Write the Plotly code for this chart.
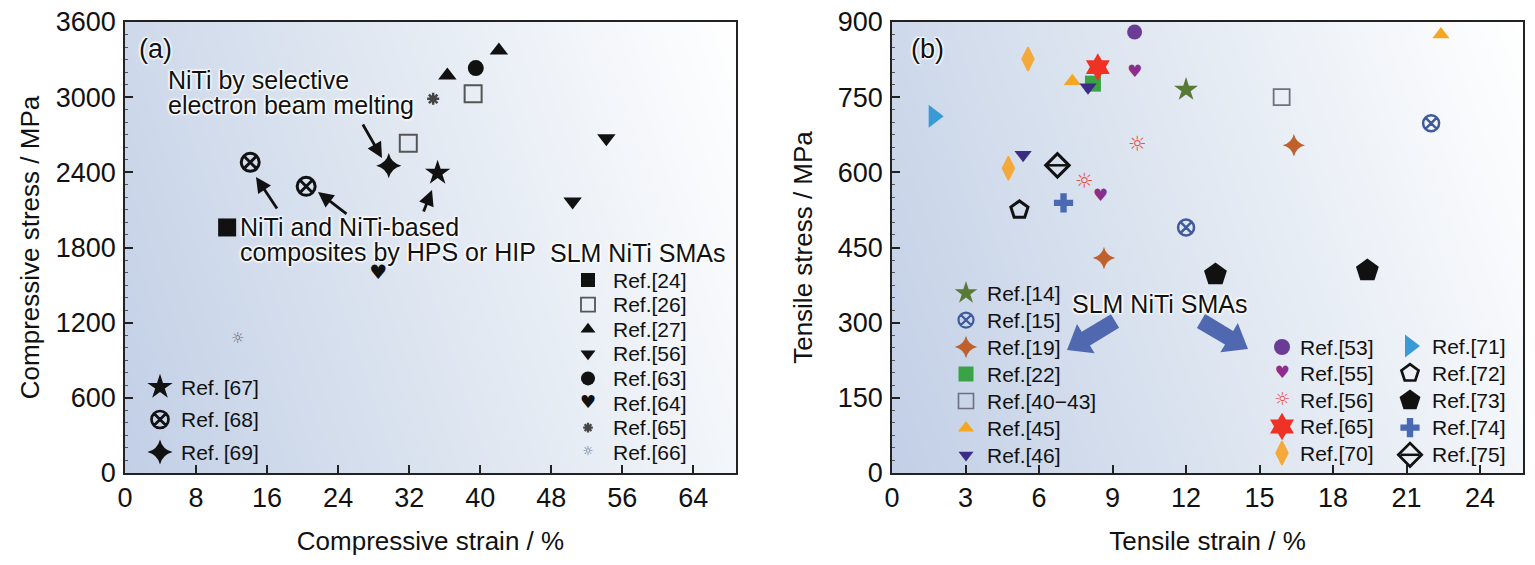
import math
import numpy as np
import plotly.graph_objects as go

W, H = 1535, 565
FONT = "Liberation Sans, Arial, sans-serif"
GLYPH_FONT = "DejaVu Sans, Liberation Sans, sans-serif"

# ---------------- (a) compressive data ----------------
a_refs = ["Ref.[24]", "Ref.[26]", "Ref.[27]", "Ref.[56]", "Ref.[63]", "Ref.[64]",
          "Ref.[65]", "Ref.[66]", "Ref.[67]", "Ref.[68]", "Ref.[69]"]
a_strain = [[11.5], [39.2, 31.9], [36.3, 42.1], [54.2, 50.4], [39.5], [28.5],
            [34.7], [12.7], [35.2], [14.1, 20.4], [29.7]]
a_stress = [[1960], [3027, 2632], [3173, 3373], [2672, 2168], [3232], [1587],
            [2987], [1067], [2395], [2480, 2288], [2453]]
a_xticks = [0, 8, 16, 24, 32, 40, 48, 56, 64]
a_yticks = [0, 600, 1200, 1800, 2400, 3000, 3600]

# ---------------- (b) tensile data ----------------
b_refs = ["Ref.[14]", "Ref.[15]", "Ref.[19]", "Ref.[22]", "Ref.[40\u221243]", "Ref.[45]", "Ref.[46]",
          "Ref.[53]", "Ref.[55]", "Ref.[56]", "Ref.[65]", "Ref.[70]",
          "Ref.[71]", "Ref.[72]", "Ref.[73]", "Ref.[74]", "Ref.[75]"]
b_strain = [[12.0], [12.0, 22.0], [16.4, 8.65], [8.2], [15.9], [7.36, 22.4], [8.0, 5.35],
            [9.9], [9.9, 8.5], [10.0, 7.84], [8.4], [5.55, 4.75],
            [1.7], [5.2], [13.2, 19.4], [7.0], [6.75]]
b_stress = [[765], [490, 698], [654, 429], [777], [750], [782, 875], [770, 635],
            [880], [798, 551], [654, 579], [810], [826, 608],
            [712], [525], [396, 404], [539], [614]]
b_xticks = [0, 3, 6, 9, 12, 15, 18, 21, 24]
b_yticks = [0, 150, 300, 450, 600, 750, 900]

# ---------------- styles ----------------
# kind, symbol/glyph, size, color, line width, legend-key size
STY_A = {
    "Ref.[24]": ("m", "square", 18, "#111111", 0, 14),
    "Ref.[26]": ("m", "square-open", 17, "#555555", 2, 14),
    "Ref.[27]": ("m", "triangle-up", 16, "#111111", 0, 13),
    "Ref.[56]": ("m", "triangle-down", 16, "#111111", 0, 13),
    "Ref.[63]": ("m", "circle", 16, "#111111", 0, 14),
    "Ref.[64]": ("g", "\u2665", 20, "#111111", 0, 18),
    "Ref.[65]": ("m", "asterisk-open", 10, "#444444", 2.5, 8),
    "Ref.[66]": ("g", "\u263c", 15, "#666666", 0, 12),
    "Ref.[67]": ("m", "star", 19, "#111111", 0, 19),
    "Ref.[68]": ("m", "circle-x-open", 18, "#111111", 3, 17),
    "Ref.[69]": ("m", "star-diamond", 18, "#111111", 0, 18),
}
STY_B = {
    "Ref.[14]": ("m", "star", 18, "#587a35", 0, 17),
    "Ref.[15]": ("m", "circle-x-open", 16, "#3f5b9b", 2.5, 15),
    "Ref.[19]": ("m", "star-diamond", 16, "#c0602d", 0, 16),
    "Ref.[22]": ("m", "square", 16, "#3aa346", 0, 15),
    "Ref.[40\u221243]": ("m", "square-open", 16, "#6d7080", 1.8, 15),
    "Ref.[45]": ("m", "triangle-up", 15, "#f5a623", 0, 14),
    "Ref.[46]": ("m", "triangle-down", 15, "#3b2d85", 0, 13),
    "Ref.[53]": ("m", "circle", 15, "#6a3c96", 0, 16),
    "Ref.[55]": ("g", "\u2665", 17, "#8e2c8c", 0, 17),
    "Ref.[56]": ("g", "\u263c", 21, "#e8524a", 0, 18),
    "Ref.[65]": ("m", "hexagram", 21, "#ee3326", 0, 21),
    "Ref.[70]": ("m", "diamond-tall", 17, "#f5a93a", 1.5, 17),
    "Ref.[71]": ("m", "triangle-right", 20, "#3a9ad6", 0, 20),
    "Ref.[72]": ("m", "pentagon-open", 18, "#111111", 3, 18),
    "Ref.[73]": ("m", "pentagon", 24, "#111111", 0, 22),
    "Ref.[74]": ("m", "cross", 16, "#4a69b3", 0, 16),
    "Ref.[75]": ("m", "diamond-open", 18, "#111111", 3, 18),
}

# legend blocks (pixel layout): refs, key x, text x, first row y, row step
LEG_BLOCKS = [
    (a_refs[:8], STY_A, 588, 611, 280, 24.6),
    (a_refs[8:], STY_A, 160, 179, 387, 32.5),
    (b_refs[:7], STY_B, 966, 985, 293, 27.0),
    (b_refs[7:12], STY_B, 1282, 1298, 347, 26.5),
    (b_refs[12:], STY_B, 1410, 1430, 346, 27.2),
]

fig = go.Figure()

# ---------------- gradient backgrounds ----------------
def gradient(xmax, ymax, xa, ya):
    gx = np.linspace(0, xmax, 40)
    gy = np.linspace(0, ymax, 20)
    xf = gx / xmax
    yf = gy / ymax
    z = 0.8 * xf[None, :] + 0.2 * yf[:, None]
    fig.add_trace(go.Heatmap(x=gx, y=gy, z=z, zsmooth="best", showscale=False, hoverinfo="skip",
                             colorscale=[[0, "#c2cfe6"], [0.45, "#dde5f0"], [0.8, "#f3f6fa"], [1, "#ffffff"]],
                             zmin=0, zmax=1, xaxis=xa, yaxis=ya))

A_XMAX, A_YMAX = 68.8, 3600
B_XMAX, B_YMAX = 25.75, 900
gradient(A_XMAX, A_YMAX, "x", "y")
gradient(B_XMAX, B_YMAX, "x2", "y2")


def add_marks(xs, ys, sty, xa, ya, name):
    kind, sym, size, color, lw, _ = sty
    if kind == "g":
        fig.add_trace(go.Scatter(x=xs, y=ys, mode="text", text=[sym] * len(xs),
                                 textposition="middle center",
                                 textfont=dict(family=GLYPH_FONT, size=size, color=color),
                                 xaxis=xa, yaxis=ya, showlegend=False, name=name, cliponaxis=False))
    else:
        fig.add_trace(go.Scatter(x=xs, y=ys, mode="markers",
                                 marker=dict(symbol=sym, size=size, color=color,
                                             line=dict(width=lw, color=color)),
                                 xaxis=xa, yaxis=ya, showlegend=False, name=name, cliponaxis=False))
        if name == "Ref.[75]":
            fig.add_trace(go.Scatter(x=xs, y=ys, mode="markers",
                                     marker=dict(symbol="line-ew", size=size * 0.75, color=color,
                                                 line=dict(width=2.5, color=color)),
                                     xaxis=xa, yaxis=ya, showlegend=False, cliponaxis=False))


for ref, xs, ys in zip(a_refs, a_strain, a_stress):
    add_marks(xs, ys, STY_A[ref], "x", "y", ref)
for ref, xs, ys in zip(b_refs, b_strain, b_stress):
    add_marks(xs, ys, STY_B[ref], "x2", "y2", ref)

# ---------------- legend blocks drawn in pixel layer ----------------
annotations = []
for bi, (refs, sty, kx, tx, y0, dy) in enumerate(LEG_BLOCKS):
    for i, ref in enumerate(refs):
        yy = y0 + i * dy
        kind, sym, size, color, lw, ksize = sty[ref]
        if kind == "g":
            fig.add_trace(go.Scatter(x=[kx], y=[yy], mode="text", text=[sym], textposition="middle center",
                                     textfont=dict(family=GLYPH_FONT, size=ksize, color=color),
                                     xaxis="x3", yaxis="y3", showlegend=False, hoverinfo="skip"))
        else:
            klw = lw if lw == 0 else max(1.5, lw * 0.9)
            fig.add_trace(go.Scatter(x=[kx], y=[yy], mode="markers",
                                     marker=dict(symbol=sym, size=ksize, color=color,
                                                 line=dict(width=klw, color=color)),
                                     xaxis="x3", yaxis="y3", showlegend=False, hoverinfo="skip"))
            if ref == "Ref.[75]":
                fig.add_trace(go.Scatter(x=[kx], y=[yy], mode="markers",
                                         marker=dict(symbol="line-ew", size=ksize * 0.75, color=color,
                                                     line=dict(width=2.5, color=color)),
                                         xaxis="x3", yaxis="y3", showlegend=False, hoverinfo="skip"))
        label = ref.replace(".", ".\u2009") if bi == 1 else ref
        annotations.append(dict(x=tx, y=yy, xref="x3", yref="y3", text=label, showarrow=False,
                                xanchor="left", yanchor="middle",
                                font=dict(family=FONT, size=21, color="#111111")))

HALO = "1px 1px 2px #ffffff, -1px -1px 2px #ffffff, 1px -1px 2px #ffffff, -1px 1px 2px #ffffff"


def txt(x, y, s, size=25, anchor="left"):
    annotations.append(dict(x=x, y=y, xref="x3", yref="y3", text=s, showarrow=False,
                            xanchor=anchor, yanchor="middle",
                            font=dict(family=FONT, size=size, color="#111111", shadow=HALO)))


txt(155, 49, "(a)", 27, "center")
txt(927, 49, "(b)", 27, "center")
txt(166, 80, "NiTi by selective")
txt(166, 105, "electron beam melting")
txt(238, 227, "NiTi and NiTi-based")
txt(238, 252, "composites by HPS or HIP")
txt(637, 253, "SLM NiTi SMAs", 25, "center")
txt(1159, 304, "SLM NiTi SMAs", 25, "center")

# thin black arrows (tail -> head) in pixel layer
for (tx0, ty0, hx, hy) in [(362, 123, 382, 158), (278, 210, 256, 177), (348, 215, 318, 192), (423, 213, 432, 190)]:
    annotations.append(dict(x=hx, y=hy, ax=tx0, ay=ty0, xref="x3", yref="y3", axref="x3", ayref="y3",
                            text="", showarrow=True, arrowhead=2, arrowsize=1.1, arrowwidth=2.8,
                            arrowcolor="#111111", standoff=0))


def block_arrow(x0, y0, x1, y1, sw=8, hw=17, hl=22):
    dx, dy = x1 - x0, y1 - y0
    L = math.hypot(dx, dy)
    ux, uy = dx / L, dy / L
    px, py = -uy, ux
    bx, by = x1 - ux * hl, y1 - uy * hl
    pts = [(x0 + px * sw, y0 + py * sw), (bx + px * sw, by + py * sw), (bx + px * hw, by + py * hw),
           (x1, y1), (bx - px * hw, by - py * hw), (bx - px * sw, by - py * sw), (x0 - px * sw, y0 - py * sw)]
    return "M " + " L ".join(f"{a:.1f},{b:.1f}" for a, b in pts) + " Z"


shapes = []
for arr in [(1115, 321, 1067, 350), (1201, 321, 1248, 349)]:
    shapes.append(dict(type="path", path=block_arrow(*arr), xref="x3", yref="y3",
                       fillcolor="#5068b0", line=dict(width=0), layer="above"))

# ---------------- axes ----------------
def dom_x(a, b):
    return [a / W, b / W]


def dom_y(top, bottom):
    return [1 - bottom / H, 1 - top / H]


axis_common = dict(showline=True, mirror=True, linecolor="#222222", linewidth=1.5,
                   ticks="inside", ticklen=8, tickwidth=1.5, tickcolor="#222222",
                   showgrid=False, zeroline=False, automargin=False,
                   tickfont=dict(family=FONT, size=27, color="#111111"))
TFONT = dict(family=FONT, size=26, color="#111111")

fig.update_layout(
    width=W, height=H,
    margin=dict(l=0, r=0, t=0, b=0, pad=0, autoexpand=False),
    paper_bgcolor="#ffffff", plot_bgcolor="rgba(0,0,0,0)",
    showlegend=False,
    xaxis=dict(domain=dom_x(125, 736), range=[0, A_XMAX], tickvals=a_xticks, anchor="y",
               title=dict(text="Compressive strain / %", font=TFONT, standoff=20),
               ticklabelstandoff=0, **axis_common),
    yaxis=dict(domain=dom_y(22, 473), range=[0, A_YMAX], tickvals=a_yticks, anchor="x",
               title=dict(text="Compressive stress / MPa", font=TFONT, standoff=9),
               ticklabelstandoff=2,
               minor=dict(ticks="inside", ticklen=3, dtick=100, tickcolor="#555555", tickwidth=1),
               **axis_common),
    xaxis2=dict(domain=dom_x(892, 1523), range=[0, B_XMAX], tickvals=b_xticks, anchor="y2",
                title=dict(text="Tensile strain / %", font=TFONT, standoff=20),
                ticklabelstandoff=0, **axis_common),
    yaxis2=dict(domain=dom_y(22, 473), range=[0, B_YMAX], tickvals=b_yticks, anchor="x2",
                title=dict(text="Tensile stress / MPa", font=TFONT, standoff=18),
                ticklabelstandoff=2,
                minor=dict(ticks="inside", ticklen=3, dtick=25, tickcolor="#555555", tickwidth=1),
                **axis_common),
    xaxis3=dict(domain=[0, 1], range=[0, W], visible=False, anchor="y3", fixedrange=True, automargin=False),
    yaxis3=dict(domain=[0, 1], range=[H, 0], visible=False, anchor="x3", fixedrange=True, automargin=False),
    annotations=annotations,
    shapes=shapes,
)

fig.write_html("out.html", config={"displayModeBar": False},
               post_script="document.body.style.margin='0';")
